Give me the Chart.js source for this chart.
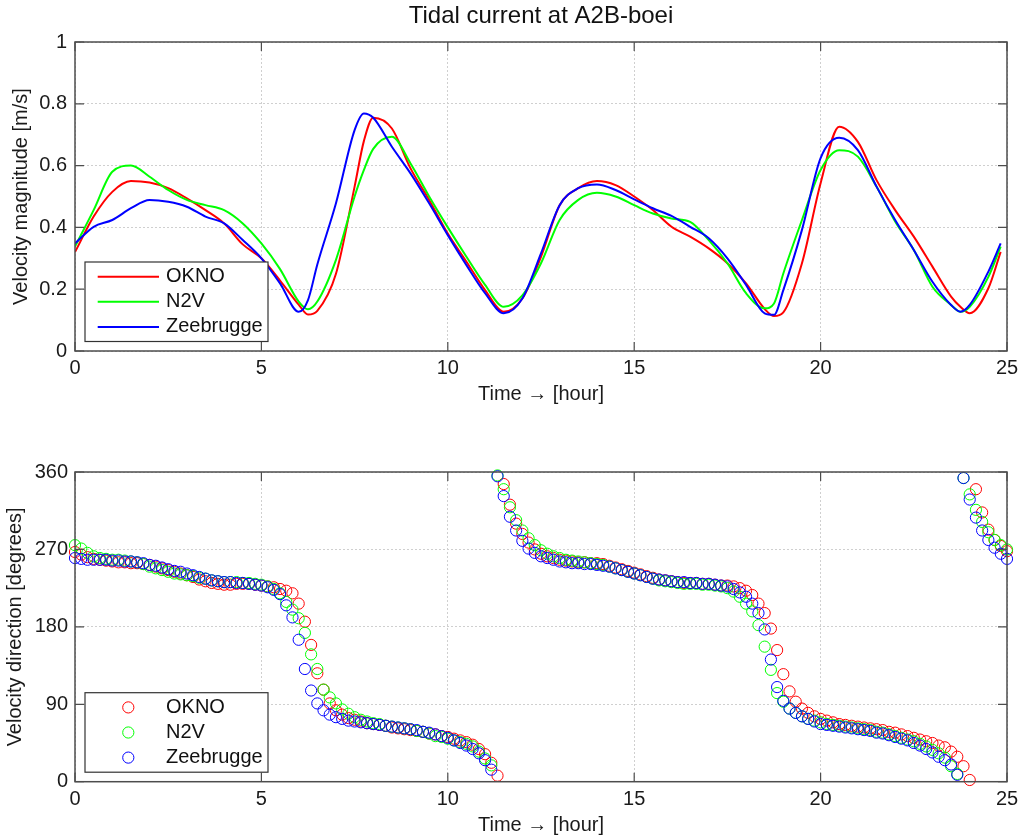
<!DOCTYPE html>
<html>
<head>
<meta charset="utf-8">
<script src="https://cdn.jsdelivr.net/npm/chart.js@4/dist/chart.umd.min.js"></script>
<style>
html,body{margin:0;padding:0;background:#fff;}
#wrap{position:relative;width:1029px;height:840px;background:#fff;}
canvas{position:absolute;left:0;}
#c1{top:0;}
#c2{top:420px;}
</style>
</head>
<body>
<div id="wrap">
<canvas id="c1" width="1029" height="420" style="width:1029px;height:420px"></canvas>
<canvas id="c2" width="1029" height="420" style="width:1029px;height:420px"></canvas>
</div>
<script>
// ---------------- data ----------------
const seriesNames = ['OKNO', 'N2V', 'Zeebrugge'];
const seriesColors = ['#ff0000', '#00ff00', '#0000ff'];

const timeTicks = [0, 5, 10, 15, 20, 25];
const magTicks = [0, 0.2, 0.4, 0.6, 0.8, 1];
const dirTicks = [0, 90, 180, 270, 360];

// velocity magnitude [m/s], sampled at these hours
const magTime = [0,0.5,1,1.5,2,2.5,3,3.5,4,4.5,5,5.5,6,6.25,6.5,7,7.5,7.75,8,8.5,9,9.5,10,10.5,11,11.5,12,12.5,13,13.5,14,14.5,15,15.5,16,16.5,17,17.5,18,18.5,18.75,19,19.5,20,20.5,21,21.5,22,22.5,23,23.5,23.75,24,24.5,24.83];
const magOKNO = [0.32,0.435,0.515,0.55,0.545,0.527,0.494,0.456,0.413,0.345,0.30,0.228,0.15,0.118,0.13,0.25,0.532,0.68,0.755,0.72,0.591,0.489,0.38,0.289,0.197,0.127,0.17,0.305,0.472,0.527,0.55,0.537,0.50,0.456,0.402,0.37,0.332,0.284,0.219,0.136,0.113,0.125,0.284,0.543,0.726,0.677,0.553,0.456,0.37,0.273,0.176,0.143,0.122,0.203,0.321];
const magN2V = [0.338,0.456,0.58,0.60,0.564,0.521,0.489,0.472,0.456,0.413,0.348,0.265,0.16,0.135,0.16,0.295,0.50,0.586,0.654,0.693,0.607,0.50,0.40,0.305,0.214,0.143,0.18,0.284,0.424,0.489,0.512,0.50,0.472,0.445,0.429,0.418,0.359,0.284,0.187,0.138,0.154,0.251,0.424,0.586,0.65,0.629,0.532,0.419,0.327,0.208,0.149,0.127,0.143,0.24,0.338];
const magZeebrugge = [0.348,0.402,0.424,0.462,0.489,0.483,0.467,0.435,0.413,0.359,0.30,0.219,0.127,0.165,0.28,0.478,0.715,0.769,0.755,0.661,0.575,0.478,0.375,0.278,0.187,0.122,0.17,0.316,0.472,0.527,0.539,0.521,0.491,0.462,0.437,0.402,0.365,0.30,0.214,0.122,0.117,0.197,0.392,0.624,0.69,0.65,0.532,0.424,0.327,0.224,0.149,0.127,0.149,0.257,0.348];

// velocity direction [degrees], one value every 10 minutes from 0 h
const dirStepMinutes = 10;
const dirOKNO = [267,264,261,259,258,257,256,255,255,254,254,253,252,250,248,246,244,242,240,238,235,233,231,230,229,229,230,230,230,229,228,227,226,224,222,219,207,186,159,126,107,91,83,78,74,72,70,68,67,66,65,63,62,61,60,59,58,56,55,53,52,50,48,46,43,38,32,22,7,346,322,300,288,278,270,265,262,260,258,257,256,255,255,254,254,253,251,249,247,245,243,241,239,237,235,234,233,232,231,231,231,230,230,229,228,228,227,225,222,217,207,196,178,153,125,105,93,85,80,76,73,71,69,67,66,65,64,63,62,61,60,58,57,55,53,51,49,47,45,42,40,35,29,18,2,340,313,293,281,274,268];
const dirN2V = [275,271,266,262,260,259,258,258,257,256,255,253,250,248,246,244,242,241,240,239,237,236,234,233,232,232,232,231,231,230,229,227,224,219,209,200,190,173,148,131,107,98,91,84,79,75,72,70,68,67,65,64,63,62,61,59,58,56,53,52,50,48,46,44,41,35,27,19,356,340,319,304,292,283,275,269,265,262,260,258,257,256,255,254,253,252,250,248,246,244,242,240,238,236,234,233,232,231,230,230,230,229,229,228,227,225,221,215,207,198,182,157,130,103,93,85,80,76,73,71,69,67,66,65,64,63,62,61,60,58,57,55,53,51,49,47,44,41,37,33,28,18,9,353,334,316,302,290,281,275,270];
const dirZeebrugge = [260,259,258,258,258,258,257,257,256,256,255,254,252,251,249,247,245,244,242,240,238,236,234,233,232,232,231,231,230,229,228,226,223,218,205,191,165,131,106,91,83,78,75,73,71,70,69,68,67,66,65,64,63,62,61,60,58,57,55,53,51,48,45,42,38,33,25,14,355,332,308,292,280,271,266,262,260,258,256,255,254,254,253,253,252,251,250,248,246,244,242,240,238,236,235,234,233,232,232,231,231,230,230,229,228,227,224,220,215,207,196,177,142,110,94,85,80,76,73,70,67,66,65,64,63,62,61,60,59,57,56,54,52,50,48,45,42,38,34,29,25,20,8,353,328,307,292,281,272,265,259];

// ---------------- chart ----------------
const FONT = "'Liberation Sans', Arial, Helvetica, sans-serif";
Chart.defaults.font.family = FONT;
Chart.defaults.font.size = 20;
Chart.defaults.color = '#1a1a1a';

const frameColor = '#4d4d4d';
const markerRadius = 5.6;

const framePlugin = {
  id: 'matlabFrame',
  afterDatasetsDraw(chart) {
    const {ctx, chartArea: a, scales} = chart;
    const xs = scales.x, ys = scales.y;
    ctx.save();
    ctx.strokeStyle = frameColor;
    ctx.lineWidth = 1.5;
    ctx.strokeRect(a.left, a.top, a.right - a.left, a.bottom - a.top);
    ctx.lineWidth = 1.2;
    const tl = 9;
    ctx.beginPath();
    xs.ticks.forEach(t => {
      const px = xs.getPixelForValue(t.value);
      ctx.moveTo(px, a.bottom); ctx.lineTo(px, a.bottom - tl);
      ctx.moveTo(px, a.top); ctx.lineTo(px, a.top + tl);
    });
    ys.ticks.forEach(t => {
      const py = ys.getPixelForValue(t.value);
      ctx.moveTo(a.left, py); ctx.lineTo(a.left + tl, py);
      ctx.moveTo(a.right, py); ctx.lineTo(a.right - tl, py);
    });
    ctx.stroke();
    ctx.restore();
  }
};

const legendPlugin = {
  id: 'boxLegend',
  afterDatasetsDraw(chart, args, opts) {
    const {ctx, chartArea: a} = chart;
    const bx = a.left + 10, by = a.bottom - 89, bw = 183, bh = 79.5;
    ctx.save();
    ctx.fillStyle = '#ffffff';
    ctx.fillRect(bx, by, bw, bh);
    ctx.strokeStyle = '#333333';
    ctx.lineWidth = 1.2;
    ctx.strokeRect(bx, by, bw, bh);
    ctx.font = '20px ' + FONT;
    ctx.textBaseline = 'middle';
    ctx.textAlign = 'left';
    seriesNames.forEach((name, i) => {
      const y = by + 14.7 + i * 25.1;
      ctx.strokeStyle = seriesColors[i];
      ctx.beginPath();
      if (opts.kind === 'line') {
        ctx.lineWidth = 2;
        ctx.moveTo(bx + 12.7, y); ctx.lineTo(bx + 74, y);
      } else {
        ctx.lineWidth = 1;
        ctx.arc(bx + 43.3, y, markerRadius, 0, Math.PI * 2);
      }
      ctx.stroke();
      ctx.fillStyle = '#111111';
      ctx.fillText(name, bx + 81, y);
    });
    ctx.restore();
  }
};

function tickSetter(values) {
  return s => { s.ticks = values.map(v => ({value: v})); };
}

function makeScales(opt) {
  return {
    x: {
      type: 'linear', min: 0, max: 25,
      afterBuildTicks: tickSetter(timeTicks),
      afterFit: s => { s.height = opt.xHeight; },
      grid: {color: '#cfcfcf', lineWidth: 1, drawTicks: false},
      border: {display: false, dash: [2, 2]},
      ticks: {autoSkip: false, maxRotation: 0, padding: opt.xPad, color: '#1a1a1a', font: {size: 20}, callback: v => String(v)},
      title: {display: true, text: 'Time \u2192 [hour]', color: '#1a1a1a', font: {size: 20}, padding: {top: 0, bottom: opt.xTitlePad}}
    },
    y: {
      type: 'linear', min: opt.yMin, max: opt.yMax,
      afterBuildTicks: tickSetter(opt.yTicks),
      afterFit: s => { s.width = 75; },
      grid: {color: '#cfcfcf', lineWidth: 1, drawTicks: false},
      border: {display: false, dash: [2, 2]},
      ticks: {autoSkip: false, padding: opt.yPad, color: '#1a1a1a', font: {size: 20}, callback: v => String(v)},
      title: {display: true, text: opt.yTitle, color: '#1a1a1a', font: {size: 20}, padding: {top: opt.yTitlePad, bottom: 0}}
    }
  };
}

const magSeries = [magOKNO, magN2V, magZeebrugge];
const dirSeries = [dirOKNO, dirN2V, dirZeebrugge];

new Chart(document.getElementById('c1'), {
  type: 'line',
  data: {
    datasets: magSeries.map((arr, i) => ({
      label: seriesNames[i],
      data: arr.map((v, k) => ({x: magTime[k], y: v})),
      borderColor: seriesColors[i],
      backgroundColor: seriesColors[i],
      borderWidth: 2,
      pointRadius: 0,
      cubicInterpolationMode: 'monotone',
      fill: false,
      order: 3 - i
    }))
  },
  options: {
    responsive: false,
    animation: false,
    layout: {padding: {top: 0, right: 22, bottom: 0, left: 0}},
    plugins: {
      legend: {display: false},
      tooltip: {enabled: false},
      title: {display: true, fullSize: false, text: 'Tidal current at A2B-boei', color: '#111', font: {size: 24, weight: 'normal'}, padding: {top: 2, bottom: 11.2}},
      boxLegend: {kind: 'line'}
    },
    scales: makeScales({xHeight: 69, xPad: 5, xTitlePad: 14, yMin: 0, yMax: 1, yTicks: magTicks, yPad: 8, yTitle: 'Velocity magnitude [m/s]', yTitlePad: 9})
  },
  plugins: [framePlugin, legendPlugin]
});

new Chart(document.getElementById('c2'), {
  type: 'scatter',
  data: {
    datasets: dirSeries.map((arr, i) => ({
      label: seriesNames[i],
      data: arr.map((v, k) => ({x: k * dirStepMinutes / 60, y: v})),
      borderColor: seriesColors[i],
      backgroundColor: 'rgba(0,0,0,0)',
      borderWidth: 1,
      pointRadius: markerRadius,
      pointHoverRadius: markerRadius,
      showLine: false,
      clip: false,
      order: 3 - i
    }))
  },
  options: {
    responsive: false,
    animation: false,
    layout: {padding: {top: 52, right: 22, bottom: 0, left: 0}},
    plugins: {
      legend: {display: false},
      tooltip: {enabled: false},
      boxLegend: {kind: 'marker'}
    },
    scales: makeScales({xHeight: 58.3, xPad: 6, xTitlePad: 3, yMin: 0, yMax: 360, yTicks: dirTicks, yPad: 7, yTitle: 'Velocity direction [degrees]', yTitlePad: 3.5})
  },
  plugins: [framePlugin, legendPlugin]
});
</script>
</body>
</html>
